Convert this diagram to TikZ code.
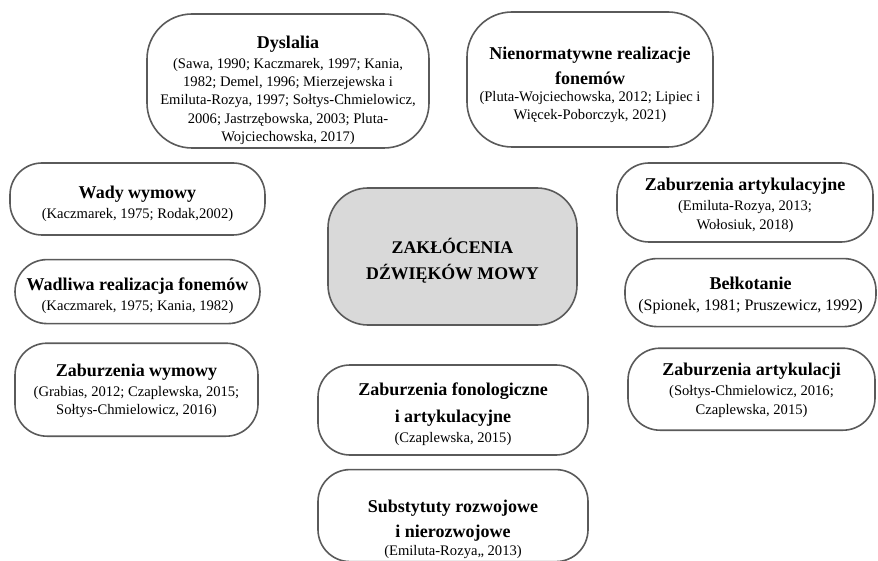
\documentclass[tikz,border=0pt]{standalone}
\usepackage{fontspec}
\setmainfont{Liberation Serif}
\usepackage{tikz}
\usetikzlibrary{positioning}
\definecolor{edgegray}{HTML}{5A5A5A}
\definecolor{hubfill}{HTML}{D9D9D9}
\newcommand{\headtxt}[1]{{\fontsize{18}{23}\selectfont\bfseries #1}}
% strut on the first line, pushes the text block down in its box
\newcommand{\droptxt}[1]{\rule{0pt}{#1}}

\begin{document}
\begin{tikzpicture}[
  x=1pt, y=1pt,
  pill/.style={draw=edgegray, line width=1.6pt, rounded corners=32pt, fill=white, align=center, inner sep=1pt, font=\fontsize{14.6}{18.4}\selectfont},
  hub/.style={pill, rounded corners=40pt, fill=hubfill, font=\fontsize{17.8}{26}\selectfont\bfseries},
  node distance=18pt
]
\useasboundingbox (0,0) rectangle (878,-561);

% centre
\node[hub, minimum width=249pt, minimum height=137pt] (hub) at (452.5,-256.5) {\droptxt{24pt}ZAKŁÓCENIA\\DŹWIĘKÓW MOWY};

% top row
\node[pill, rounded corners=45pt, minimum width=282pt, minimum height=134pt] (dyslalia) at (288,-81)
  {\droptxt{31pt}\headtxt{Dyslalia}\\[1.6pt] (Sawa, 1990; Kaczmarek, 1997; Kania,\\ 1982; Demel, 1996; Mierzejewska i\\ Emiluta-Rozya, 1997; Sołtys-Chmielowicz,\\ 2006; Jastrzębowska, 2003; Pluta-\\ Wojciechowska, 2017)};
\node[pill, rounded corners=45pt, minimum width=246pt, minimum height=135pt] (nienorm) at (590,-79.5)
  {\droptxt{23.5pt}\headtxt{Nienormatywne realizacje}\\[6.6pt] \headtxt{fonemów}\\[-1.8pt] (Pluta-Wojciechowska, 2012; Lipiec i\\ Więcek-Poborczyk, 2021)};

% left column
\node[pill, minimum width=255pt, minimum height=72pt] (wady) at (137.5,-199)
  {\droptxt{22.5pt}\headtxt{Wady wymowy}\\[1.6pt] (Kaczmarek, 1975; Rodak,2002)};
\node[pill, minimum width=245pt, minimum height=64pt, below=23pt of wady] (wadliwa)
  {\droptxt{20.5pt}\headtxt{Wadliwa realizacja fonemów}\\[1.6pt] (Kaczmarek, 1975; Kania, 1982)};
\node[pill, minimum width=243pt, minimum height=93pt, below=18pt of wadliwa, xshift=-1pt] (zwymowy)
  {\droptxt{15pt}\headtxt{Zaburzenia wymowy}\\[1.6pt] (Grabias, 2012; Czaplewska, 2015;\\ Sołtys-Chmielowicz, 2016)};

% right column
\node[pill, minimum width=256pt, minimum height=79pt] (zartyk) at (745,-202.5)
  {\droptxt{18.5pt}\headtxt{Zaburzenia artykulacyjne}\\[1.6pt] (Emiluta-Rozya, 2013;\\ Wołosiuk, 2018)};
\node[pill, minimum width=251pt, minimum height=68pt, below=15pt of zartyk, xshift=5.5pt, font=\fontsize{16}{20}\selectfont] (belkot)
  {\droptxt{18.5pt}\headtxt{Bełkotanie}\\[1pt] (Spionek, 1981; Pruszewicz, 1992)};
\node[pill, minimum width=247pt, minimum height=82pt, below=20pt of belkot, xshift=1pt] (zartykj)
  {\droptxt{15pt}\headtxt{Zaburzenia artykulacji}\\[1.6pt] (Sołtys-Chmielowicz, 2016;\\ Czaplewska, 2015)};

% bottom middle
\node[pill, minimum width=270pt, minimum height=90pt] (zfonol) at (453,-410)
  {\droptxt{20.5pt}\headtxt{Zaburzenia fonologiczne}\\[8.3pt] \headtxt{i artykulacyjne}\\[1.6pt] (Czaplewska, 2015)};
\node[pill, minimum width=270pt, minimum height=92pt, below=13pt of zfonol] (substyt)
  {\droptxt{40pt}\headtxt{Substytuty rozwojowe}\\[6.6pt] \headtxt{i nierozwojowe}\\[-0.4pt] (Emiluta-Rozya,, 2013)};
\end{tikzpicture}
\end{document}
